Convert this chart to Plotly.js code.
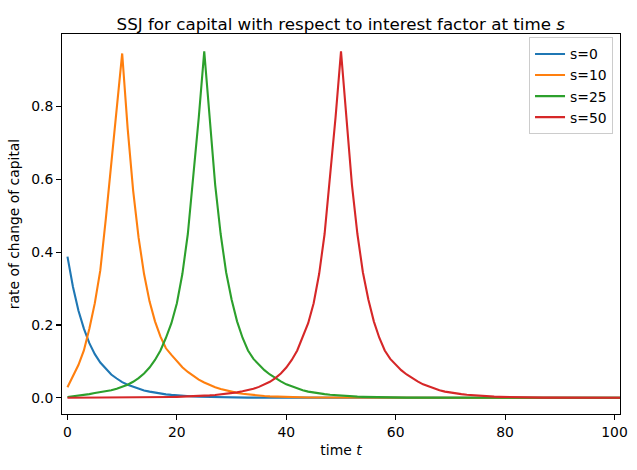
<!DOCTYPE html>
<html>
<head>
    <title>SSJ for capital</title>
    <script src="https://cdn.plot.ly/plotly-3.0.1.min.js"></script>
    <style>
        html, body { margin: 0; padding: 0; background: white; }
        #plot { width: 637px; height: 470px; }
    </style>
</head>
<body>
    <div id="plot"></div>
    <script>
        // time index t = 0..101
        const time = Array.from({length: 102}, (_, i) => i);

        const seriesNames = ['s=0', 's=10', 's=25', 's=50'];
        const seriesColors = ['#1f77b4', '#ff7f0e', '#2ca02c', '#d62728'];

        const s0 = [
            0.388, 0.305, 0.24, 0.19, 0.15, 0.12, 0.097, 0.079, 0.064, 0.053,
            0.043, 0.036, 0.030, 0.025, 0.020, 0.017, 0.014, 0.0115, 0.0095, 0.008,
            0.0065, 0.0054, 0.0045, 0.0037, 0.003, 0.0025, 0.002, 0.0017, 0.0014, 0.0011,
            0.0009, 0.0008, 0.0006, 0.0005, 0.0004, 0.0003, 0.0003, 0.0002, 0.0002, 0.0001,
            0.0001, 0, 0, 0, 0, 0, 0, 0, 0, 0,
            0, 0, 0, 0, 0, 0, 0, 0, 0, 0,
            0, 0, 0, 0, 0, 0, 0, 0, 0, 0,
            0, 0, 0, 0, 0, 0, 0, 0, 0, 0,
            0, 0, 0, 0, 0, 0, 0, 0, 0, 0,
            0, 0, 0, 0, 0, 0, 0, 0, 0, 0,
            0, 0
        ];

        const s10 = [
            0.029, 0.058, 0.09, 0.13, 0.19, 0.26, 0.35, 0.49, 0.64, 0.79,
            0.946, 0.74, 0.57, 0.44, 0.34, 0.265, 0.21, 0.168, 0.136, 0.118,
            0.10, 0.084, 0.071, 0.060, 0.050, 0.042, 0.035, 0.029, 0.024, 0.020,
            0.0165, 0.0135, 0.011, 0.009, 0.0074, 0.006, 0.0049, 0.004, 0.0033, 0.0027,
            0.0022, 0.0018, 0.0015, 0.0012, 0.001, 0.0008, 0.0007, 0.0006, 0.0005, 0.0004,
            0.0003, 0.0003, 0.0002, 0.0002, 0.0001, 0.0001, 0, 0, 0, 0,
            0, 0, 0, 0, 0, 0, 0, 0, 0, 0,
            0, 0, 0, 0, 0, 0, 0, 0, 0, 0,
            0, 0, 0, 0, 0, 0, 0, 0, 0, 0,
            0, 0, 0, 0, 0, 0, 0, 0, 0, 0,
            0, 0
        ];

        const s25 = [
            0.002, 0.0038, 0.0055, 0.0073, 0.0102, 0.013, 0.015, 0.018, 0.021, 0.025,
            0.030, 0.036, 0.044, 0.054, 0.067, 0.083, 0.104, 0.13, 0.165, 0.205,
            0.26, 0.34, 0.45, 0.60, 0.77, 0.952, 0.76, 0.585, 0.45, 0.345,
            0.27, 0.21, 0.165, 0.13, 0.107, 0.090, 0.076, 0.064, 0.054, 0.045,
            0.037, 0.031, 0.026, 0.021, 0.017, 0.014, 0.012, 0.010, 0.0082, 0.0068,
            0.0056, 0.0046, 0.0038, 0.0031, 0.0026, 0.0021, 0.0017, 0.0014, 0.0012, 0.001,
            0.0008, 0.0007, 0.0006, 0.0005, 0.0004, 0.0003, 0.0003, 0.0002, 0.0002, 0.0001,
            0.0001, 0.0001, 0, 0, 0, 0, 0, 0, 0, 0,
            0, 0, 0, 0, 0, 0, 0, 0, 0, 0,
            0, 0, 0, 0, 0, 0, 0, 0, 0, 0,
            0, 0
        ];

        const s50 = [
            0.0001, 0.0001, 0.0001, 0.0002, 0.0002, 0.0002, 0.0003, 0.0003, 0.0004, 0.0004,
            0.0005, 0.0006, 0.0007, 0.0008, 0.0009, 0.0011, 0.0013, 0.0015, 0.0018, 0.0021,
            0.0025, 0.0029, 0.0035, 0.0041, 0.0048, 0.0057, 0.0067, 0.0079, 0.0093, 0.011,
            0.013, 0.015, 0.018, 0.021, 0.025, 0.030, 0.036, 0.044, 0.054, 0.067,
            0.083, 0.104, 0.13, 0.165, 0.205, 0.26, 0.34, 0.45, 0.60, 0.77,
            0.952, 0.76, 0.585, 0.45, 0.345, 0.27, 0.21, 0.165, 0.13, 0.107,
            0.090, 0.076, 0.064, 0.054, 0.045, 0.037, 0.031, 0.026, 0.021, 0.017,
            0.014, 0.012, 0.010, 0.0082, 0.0068, 0.0056, 0.0046, 0.0038, 0.0031, 0.0026,
            0.0021, 0.0017, 0.0014, 0.0012, 0.001, 0.0008, 0.0007, 0.0006, 0.0005, 0.0004,
            0.0003, 0.0003, 0.0002, 0.0002, 0.0001, 0.0001, 0.0001, 0, 0, 0,
            0, 0
        ];

        const xTicks = [0, 20, 40, 60, 80, 100];
        const yTicks = [0.0, 0.2, 0.4, 0.6, 0.8];

        const allSeries = [s0, s10, s25, s50];

        const data = allSeries.map((ys, i) => ({
            x: time,
            y: ys,
            type: 'scatter',
            mode: 'lines',
            name: seriesNames[i],
            line: { color: seriesColors[i], width: 2.1 }
        }));

        const font = 'DejaVu Sans, sans-serif';

        const layout = {
            width: 637,
            height: 470,
            margin: { l: 62, r: 17, t: 34, b: 56 },
            paper_bgcolor: 'white',
            plot_bgcolor: 'white',
            font: { family: font, size: 13.9, color: 'black' },
            title: {
                text: 'SSJ for capital with respect to interest factor at time <i>s</i>',
                font: { family: font, size: 16.7, color: 'black' },
                x: 0.535,
                xanchor: 'center',
                yref: 'paper',
                y: 1,
                yanchor: 'bottom',
                pad: { b: 4 }
            },
            xaxis: {
                range: [-1, 101],
                tickvals: xTicks,
                ticktext: xTicks.map(String),
                ticks: 'outside',
                ticklen: 4.9,
                tickwidth: 1.1,
                tickcolor: 'black',
                showline: true,
                linecolor: 'black',
                linewidth: 1.1,
                mirror: true,
                showgrid: false,
                zeroline: false,
                automargin: false,
                title: { text: 'time <i>t</i>', standoff: 6, font: { family: font, size: 13.9 } }
            },
            yaxis: {
                range: [-0.0445, 0.9995],
                tickvals: yTicks,
                ticktext: yTicks.map(v => v.toFixed(1)),
                ticks: 'outside',
                ticklen: 4.9,
                tickwidth: 1.1,
                tickcolor: 'black',
                showline: true,
                linecolor: 'black',
                linewidth: 1.1,
                mirror: true,
                showgrid: false,
                zeroline: false,
                automargin: false,
                title: { text: 'rate of change of capital', standoff: 8, font: { family: font, size: 13.9 } }
            },
            showlegend: true,
            legend: {
                x: 0.9875,
                xanchor: 'right',
                y: 0.991,
                yanchor: 'top',
                bgcolor: 'rgba(255,255,255,0.8)',
                bordercolor: '#cccccc',
                borderwidth: 1,
                font: { family: font, size: 13.9 },
                tracegroupgap: 0
            }
        };

        Plotly.newPlot('plot', data, layout, { displayModeBar: false, staticPlot: true });
    </script>
</body>
</html>
